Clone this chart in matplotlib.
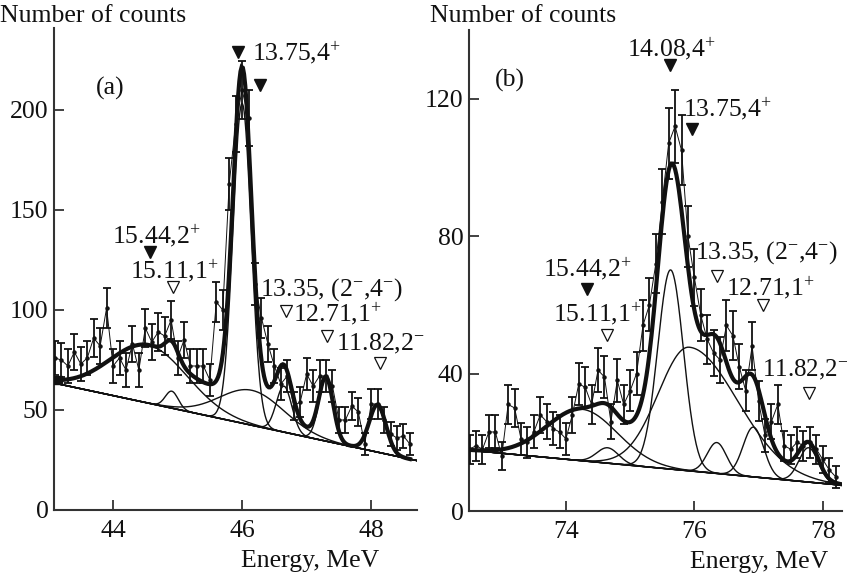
import numpy as np
import matplotlib
matplotlib.use("Agg")
import matplotlib.pyplot as plt

plt.rcParams['font.family'] = ['Liberation Serif', 'DejaVu Serif']
plt.rcParams['mathtext.fontset'] = 'custom'
plt.rcParams['mathtext.rm'] = 'Liberation Serif'
plt.rcParams['mathtext.it'] = 'Liberation Serif'
plt.rcParams['mathtext.bf'] = 'Liberation Serif'
plt.rcParams['mathtext.default'] = 'regular'

# ---------------- panel (a) data ----------------
energy_a = [43.1, 43.2, 43.3, 43.4, 43.5, 43.6, 43.7, 43.8, 43.9, 44.0,
            44.1, 44.2, 44.3, 44.4, 44.5, 44.6, 44.7, 44.8, 44.9, 45.0,
            45.1, 45.2, 45.3, 45.4, 45.5, 45.6, 45.7, 45.8, 45.9, 46.0,
            46.1, 46.2, 46.3, 46.4, 46.5, 46.6, 46.7, 46.8, 46.9, 47.0,
            47.1, 47.2, 47.3, 47.4, 47.5, 47.6, 47.7, 47.8, 47.9, 48.0,
            48.1, 48.2, 48.3, 48.4, 48.5, 48.6]
counts_a = [76, 75, 72, 79, 73, 76, 86, 82, 101, 72,
            76, 70, 83, 70, 91, 84, 89, 87, 95, 76,
            85, 72, 72, 72, 65, 104, 100, 163, 193, 210,
            196, 113, 96, 83, 72, 63, 67, 52, 54, 68,
            62, 67, 67, 62, 45, 45, 52, 49, 33, 53,
            53, 45, 38, 36, 37, 33]
errors_a = [8.7, 8.7, 8.5, 8.9, 8.5, 8.7, 9.3, 9.1, 10.0, 8.5,
            8.7, 8.4, 9.1, 8.4, 9.5, 9.2, 9.4, 9.3, 9.7, 8.7,
            9.2, 8.5, 8.5, 8.5, 8.1, 10.2, 10.0, 12.8, 13.9, 14.5,
            14.0, 10.6, 9.8, 9.1, 8.5, 7.9, 8.2, 7.2, 7.3, 8.2,
            7.9, 8.2, 8.2, 7.9, 6.7, 6.7, 7.2, 7.0, 5.7, 7.3,
            7.3, 6.7, 6.2, 6.0, 6.1, 5.7]
# fitted background (linear) and peaks for (a)
bg_energy_a = [43.085, 48.71]
bg_counts_a = [63.5, 24.7]
peak_center_a = [44.55, 44.91, 46.00, 46.15, 46.65, 47.30, 48.10]
peak_amp_a = [29.0, 8.5, 160.0, 17.5, 23.0, 31.0, 23.7]
peak_sigl_a = [0.60, 0.10, 0.14, 0.50, 0.12, 0.11, 0.13]
peak_sigr_a = [0.60, 0.10, 0.14, 0.50, 0.12, 0.11, 0.13]
fit_range_a = [43.15, 48.6]

# ---------------- panel (b) data ----------------
energy_b = [72.5, 72.6, 72.7, 72.8, 72.9, 73.0, 73.1, 73.2, 73.3, 73.4,
            73.5, 73.6, 73.7, 73.8, 73.9, 74.0, 74.1, 74.2, 74.3, 74.4,
            74.5, 74.6, 74.7, 74.8, 74.9, 75.0, 75.1, 75.2, 75.3, 75.4,
            75.5, 75.6, 75.7, 75.8, 75.9, 76.0, 76.1, 76.2, 76.3, 76.4,
            76.5, 76.6, 76.7, 76.8, 76.9, 77.0, 77.1, 77.2, 77.3, 77.4,
            77.5, 77.6, 77.7, 77.8, 77.9, 78.0, 78.1, 78.2]
counts_b = [18, 19, 18, 23, 23, 16, 31, 30, 21, 20,
            23, 28, 26, 24, 23, 21, 28, 37, 36, 31,
            41, 39, 26, 38, 31, 35, 40, 54, 60, 72,
            90, 107, 112, 105, 80, 68, 57, 50, 46, 44,
            54, 51, 42, 35, 48, 32, 22, 26, 31, 19,
            18, 20, 19, 20, 18, 15, 12, 10]
errors_b = [4.2, 4.4, 4.2, 4.8, 4.8, 4.0, 5.6, 5.5, 4.6, 4.5,
            4.8, 5.3, 5.1, 4.9, 4.8, 4.6, 5.3, 6.1, 6.0, 5.6,
            6.4, 6.2, 5.1, 6.2, 5.6, 5.9, 6.3, 7.3, 7.7, 8.5,
            9.5, 10.3, 10.6, 10.2, 8.9, 8.2, 7.5, 7.1, 6.8, 6.6,
            7.3, 7.1, 6.5, 5.9, 6.9, 5.7, 4.7, 5.1, 5.6, 4.4,
            4.2, 4.5, 4.4, 4.5, 4.2, 3.9, 3.5, 3.2]
bg_energy_b = [72.49, 78.3]
bg_counts_b = [17.7, 7.5]
peak_center_b = [74.25, 74.65, 75.63, 75.92, 76.35, 76.92, 77.78]
peak_amp_b = [15.0, 4.5, 58.0, 36.0, 9.0, 14.5, 10.0]
peak_sigl_b = [0.55, 0.17, 0.20, 0.48, 0.15, 0.16, 0.15]
peak_sigr_b = [0.55, 0.17, 0.20, 0.75, 0.15, 0.16, 0.15]
fit_range_b = [72.5, 78.3]

INK = '#111111'


def peak_shape(e, c, a, sl, sr):
    s = np.where(e < c, sl, sr)
    return a * np.exp(-0.5 * ((e - c) / s) ** 2)


def draw_panel(ax, energy, counts, errors, bg_e, bg_c, pc, pa, psl, psr,
               frange, xlim):
    e = np.linspace(xlim[0], xlim[1], 400)
    bg = np.polyval(np.polyfit(bg_e, bg_c, 1), e)
    ax.plot(e, bg, color=INK, lw=1.1, zorder=2)
    for c, a, sl, sr in zip(pc, pa, psl, psr):
        comp = bg + peak_shape(e, c, a, sl, sr)
        ax.plot(e, comp, color=INK, lw=1.0, zorder=2)
    ax.errorbar(energy, counts, yerr=errors, fmt='-', color=INK, lw=0.7,
                ecolor=INK, elinewidth=1.3, capsize=3, capthick=1.3,
                marker='o', ms=2.2, zorder=3)
    ef = np.linspace(frange[0], frange[1], 300)
    fit = np.polyval(np.polyfit(bg_e, bg_c, 1), ef)
    for c, a, sl, sr in zip(pc, pa, psl, psr):
        fit = fit + peak_shape(ef, c, a, sl, sr)
    ax.plot(ef, fit, color=INK, lw=3.0, zorder=4, solid_joinstyle='miter')
    return ef, fit


W, H = 848, 578
fig = plt.figure(figsize=(W / 100, H / 100), dpi=100)

xlim_a = (43.085, 48.71)
ylim_a = (0, 241)
xlim_b = (72.49, 78.3)
ylim_b = (0, 140)

ax_a = fig.add_axes([54 / W, 1 - 510 / H, (417 - 54) / W, (510 - 28) / H])
ax_b = fig.add_axes([469 / W, 1 - 511 / H, (842 - 469) / W, (511 - 30) / H])

ef_a, fit_a = draw_panel(ax_a, energy_a, counts_a, errors_a, bg_energy_a,
                         bg_counts_a, peak_center_a, peak_amp_a, peak_sigl_a,
                         peak_sigr_a, fit_range_a, xlim_a)
ax_a.plot([ef_a[0]], [fit_a[0]], marker='s', ms=6, color=INK, zorder=5)
draw_panel(ax_b, energy_b, counts_b, errors_b, bg_energy_b, bg_counts_b,
           peak_center_b, peak_amp_b, peak_sigl_b, peak_sigr_b,
           fit_range_b, xlim_b)

for ax, xl, yl, xt, yt in [(ax_a, xlim_a, ylim_a, [44, 46, 48], [0, 50, 100, 150, 200]),
                           (ax_b, xlim_b, ylim_b, [74, 76, 78], [0, 40, 80, 120])]:
    ax.set_xlim(*xl)
    ax.set_ylim(*yl)
    ax.set_xticks(xt)
    ax.set_yticks(yt)
    for s in ['top', 'right']:
        ax.spines[s].set_visible(False)
    for s in ['left', 'bottom']:
        ax.spines[s].set_linewidth(1.5)
        ax.spines[s].set_color('#333333')
    ax.tick_params(direction='in', length=7, width=1.3, color='#333333',
                   labelsize=18.5, labelcolor=INK)
    ax.tick_params(axis='y', pad=4)
    ax.tick_params(axis='x', pad=7)
    ax.patch.set_alpha(0)

FS = 18.5


def tri(ax, x, y, filled):
    if filled:
        ax.plot([x], [y], marker='v', ms=8.5, color=INK, zorder=6, clip_on=False)
    else:
        ax.plot([x], [y], marker='v', ms=8, mfc='white', mec=INK, mew=0.9,
                zorder=6, clip_on=False)


def lab(ax, x, y, s, ha='left', fs=FS):
    ax.text(x, y, s, fontsize=fs, color=INK, ha=ha, va='baseline', zorder=7,
            clip_on=False)


# panel (a) annotations
lab(ax_a, 43.95, 207.5, '(a)', ha='center')
tri(ax_a, 45.94, 229, True)
lab(ax_a, 46.15, 224.7, r'13.75,4$^{+}$')
tri(ax_a, 46.28, 212.5, True)
lab(ax_a, 43.98, 133.2, r'15.44,2$^{+}$')
tri(ax_a, 44.57, 129, True)
lab(ax_a, 44.27, 115.7, r'15.11,1$^{+}$')
tri(ax_a, 44.93, 111.5, False)
lab(ax_a, 46.28, 107.2, r'13.35, (2$^{-}$,4$^{-}$)')
tri(ax_a, 46.68, 99.5, False)
lab(ax_a, 46.79, 94.2, r'12.71,1$^{+}$')
tri(ax_a, 47.32, 87, False)
lab(ax_a, 47.46, 79.7, r'11.82,2$^{-}$')
tri(ax_a, 48.14, 73.5, False)

# panel (b) annotations
lab(ax_b, 73.13, 123.5, '(b)', ha='center')
lab(ax_b, 74.95, 132.1, r'14.08,4$^{+}$')
tri(ax_b, 75.62, 129.7, True)
lab(ax_b, 75.82, 114.7, r'13.75,4$^{+}$')
tri(ax_b, 75.96, 111.3, True)
lab(ax_b, 76.01, 73.4, r'13.35, (2$^{-}$,4$^{-}$)')
tri(ax_b, 76.35, 68.3, False)
lab(ax_b, 76.5, 62.6, r'12.71,1$^{+}$')
tri(ax_b, 77.07, 59.9, False)
lab(ax_b, 77.06, 39.1, r'11.82,2$^{-}$', fs=18)
tri(ax_b, 77.78, 34.3, False)
lab(ax_b, 73.64, 68.2, r'15.44,2$^{+}$')
tri(ax_b, 74.33, 64.5, True)
lab(ax_b, 73.8, 55.1, r'15.11,1$^{+}$')
tri(ax_b, 74.64, 51.2, False)

# axis titles
fig.text(0 / W, 1 - 22 / H, 'Number of counts', fontsize=FS, color=INK,
         ha='left', va='baseline')
fig.text(430 / W, 1 - 22 / H, 'Number of counts', fontsize=FS, color=INK,
         ha='left', va='baseline')
fig.text(310 / W, 1 - 567 / H, 'Energy, MeV', fontsize=FS, color=INK,
         ha='center', va='baseline')
fig.text(759 / W, 1 - 568 / H, 'Energy, MeV', fontsize=FS, color=INK,
         ha='center', va='baseline')

fig.savefig('out.png', dpi=100)
